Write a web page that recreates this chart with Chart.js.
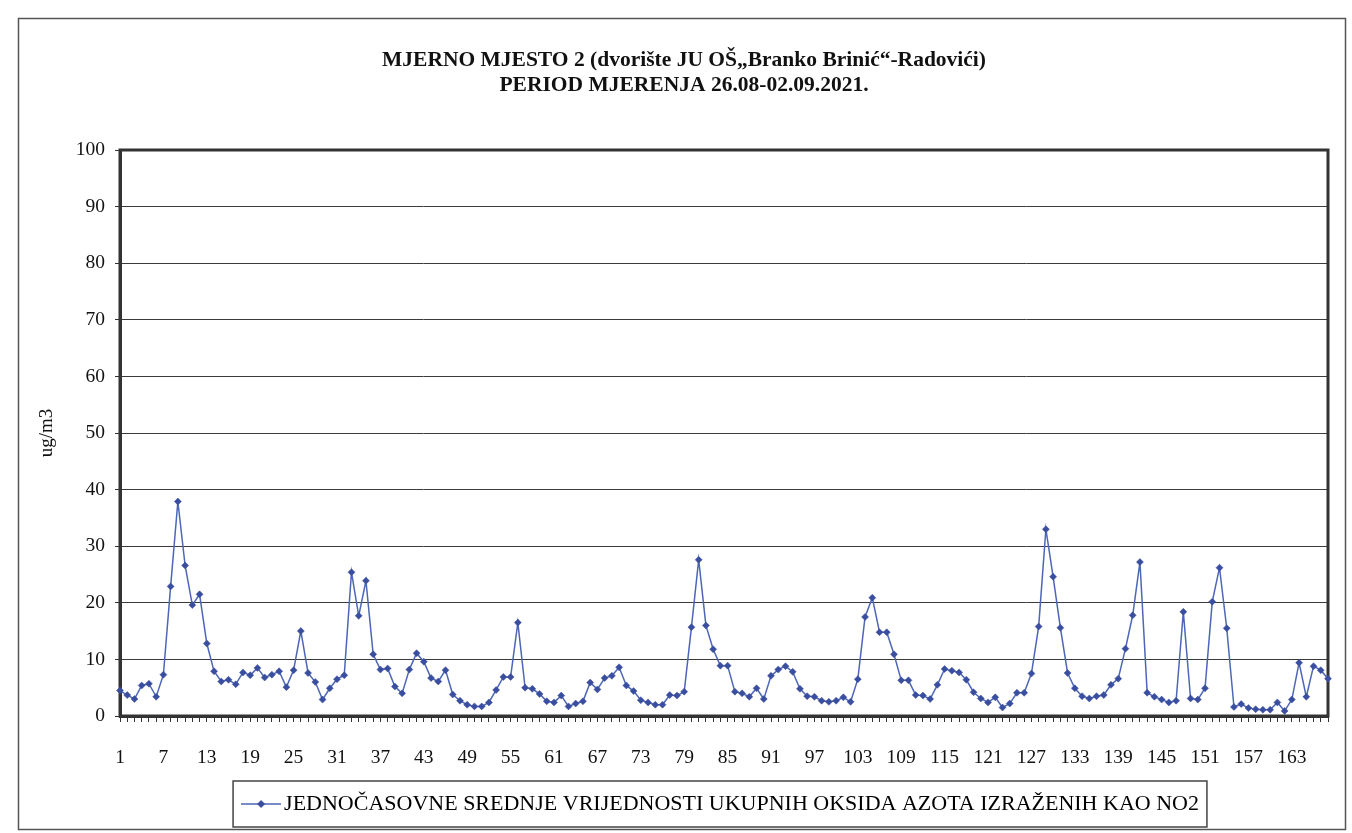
<!DOCTYPE html>
<html>
<head>
<meta charset="utf-8">
<script src="https://cdn.jsdelivr.net/npm/chart.js@4/dist/chart.umd.min.js"></script>
<style>
  html, body { margin: 0; padding: 0; background: #fff; }
  canvas { display: block; }
</style>
</head>
<body>
<canvas id="c" width="1352" height="833"></canvas>
<script>
// ---- data ----
const categories = [
  1,2,3,4,5,6,7,8,9,10,11,12,13,14,15,16,17,18,19,20,21,22,23,24,
  25,26,27,28,29,30,31,32,33,34,35,36,37,38,39,40,41,42,43,44,45,46,47,48,
  49,50,51,52,53,54,55,56,57,58,59,60,61,62,63,64,65,66,67,68,69,70,71,72,
  73,74,75,76,77,78,79,80,81,82,83,84,85,86,87,88,89,90,91,92,93,94,95,96,
  97,98,99,100,101,102,103,104,105,106,107,108,109,110,111,112,113,114,115,116,117,118,119,120,
  121,122,123,124,125,126,127,128,129,130,131,132,133,134,135,136,137,138,139,140,141,142,143,144,
  145,146,147,148,149,150,151,152,153,154,155,156,157,158,159,160,161,162,163,164,165,166,167,168
];
const no2Values = [
  4.5,3.7,3.0,5.4,5.7,3.4,7.3,22.9,37.9,26.6,19.6,21.5,12.8,7.9,6.1,6.4,5.6,7.7,7.2,8.5,6.8,7.3,7.9,5.1,
  8.1,15.0,7.6,6.0,2.9,4.9,6.5,7.2,25.4,17.7,23.9,10.9,8.2,8.4,5.2,4.0,8.2,11.1,9.6,6.7,6.1,8.1,3.8,2.7,
  2.0,1.7,1.7,2.4,4.6,6.9,6.9,16.5,5.0,4.8,3.9,2.6,2.4,3.6,1.7,2.2,2.6,5.9,4.7,6.7,7.1,8.6,5.4,4.4,
  2.8,2.4,2.0,2.0,3.7,3.6,4.3,15.7,27.6,16.0,11.8,8.9,8.9,4.3,4.0,3.4,4.9,3.0,7.1,8.2,8.8,7.8,4.8,3.5,
  3.4,2.7,2.5,2.7,3.3,2.5,6.5,17.5,20.9,14.8,14.8,10.9,6.3,6.3,3.7,3.6,3.0,5.5,8.3,8.0,7.7,6.4,4.2,3.1,
  2.4,3.3,1.5,2.2,4.1,4.1,7.5,15.8,33.0,24.6,15.6,7.6,4.9,3.5,3.1,3.5,3.7,5.5,6.6,11.9,17.8,27.2,4.1,3.4,
  2.9,2.4,2.7,18.4,3.1,2.9,4.9,20.2,26.2,15.5,1.6,2.1,1.4,1.2,1.1,1.1,2.4,0.9,2.9,9.4,3.4,8.8,8.1,6.6
];
const xTickLabels = ['1','7','13','19','25','31','37','43','49','55','61','67','73','79','85','91','97','103','109','115','121','127','133','139','145','151','157','163'];
const yTickValues = [0,10,20,30,40,50,60,70,80,90,100];
const titleLines = ['MJERNO MJESTO 2 (dvorište JU OŠ„Branko Brinić“-Radovići)', 'PERIOD MJERENJA 26.08-02.09.2021.'];
const seriesName = 'JEDNOČASOVNE SREDNJE VRIJEDNOSTI UKUPNIH OKSIDA AZOTA IZRAŽENIH KAO NO2';
const yAxisTitle = 'ug/m3';

// ---- styles ----
const SERIF = '"Liberation Serif", "Times New Roman", "DejaVu Serif", serif';
const LINE_COLOR = '#4d66b6';
const POINT_COLOR = '#3a4e9f';

// legend symbol: short line with a diamond
const sym = document.createElement('canvas');
sym.width = 40; sym.height = 12;
(function () {
  const g = sym.getContext('2d');
  g.strokeStyle = LINE_COLOR; g.lineWidth = 1.5;
  g.beginPath(); g.moveTo(0, 6); g.lineTo(40, 6); g.stroke();
  g.fillStyle = POINT_COLOR;
  g.beginPath(); g.moveTo(20, 2); g.lineTo(24, 6); g.lineTo(20, 10); g.lineTo(16, 6); g.closePath(); g.fill();
})();

const framePlugin = {
  id: 'frame',
  beforeDraw(chart) {
    const ctx = chart.ctx;
    ctx.save();
    ctx.fillStyle = '#fff';
    ctx.fillRect(0, 0, chart.width, chart.height);
    ctx.strokeStyle = '#555';
    ctx.lineWidth = 1.5;
    ctx.strokeRect(18.5, 18.5, 1327, 811);
    ctx.restore();
  },
  beforeDatasetsDraw(chart) {
    const a = chart.chartArea, ctx = chart.ctx;
    ctx.save();
    ctx.strokeStyle = '#333';
    ctx.lineWidth = 3;
    ctx.strokeRect(a.left, a.top, a.right - a.left, a.bottom - a.top);
    ctx.restore();
  },
  afterDraw(chart) {
    const lg = chart.legend;
    if (!lg || !lg.legendHitBoxes || !lg.legendHitBoxes.length) return;
    const hb = lg.legendHitBoxes[0];
    const ctx = chart.ctx;
    ctx.save();
    ctx.strokeStyle = '#444';
    ctx.lineWidth = 1.5;
    ctx.strokeRect(hb.left - 16, hb.top - 12, hb.width + 24, hb.height + 24);
    ctx.restore();
  }
};

new Chart(document.getElementById('c'), {
  type: 'line',
  data: {
    labels: categories,
    datasets: [{
      label: seriesName,
      data: no2Values,
      borderColor: LINE_COLOR,
      backgroundColor: POINT_COLOR,
      borderWidth: 1.5,
      pointStyle: 'rectRot',
      pointRadius: 3.5,
      pointBackgroundColor: POINT_COLOR,
      pointBorderColor: POINT_COLOR,
      pointBorderWidth: 0.5,
      tension: 0,
      clip: false
    }]
  },
  options: {
    responsive: false,
    animation: false,
    devicePixelRatio: 1,
    layout: { padding: { left: 38, right: 22, top: 0, bottom: 8 } },
    plugins: {
      title: {
        display: true,
        text: titleLines,
        color: '#111',
        font: { family: SERIF, size: 21.5, weight: 'bold', lineHeight: 25 / 21.5 },
        padding: { top: 48, bottom: 52 }
      },
      legend: {
        display: true,
        position: 'bottom',
        fullSize: false,
        labels: {
          color: '#111',
          font: { family: SERIF, size: 22 },
          usePointStyle: true,
          pointStyleWidth: 24,
          padding: 10,
          generateLabels(chart) {
            return [{
              text: seriesName,
              fillStyle: POINT_COLOR,
              strokeStyle: LINE_COLOR,
              pointStyle: sym,
              lineWidth: 0,
              hidden: false,
              datasetIndex: 0
            }];
          }
        }
      },
      tooltip: { enabled: false }
    },
    scales: {
      x: {
        type: 'category',
        offset: false,
        afterFit(s) { s.height = 67; },
        grid: { display: true, drawOnChartArea: false, drawTicks: true, tickLength: 6, tickColor: '#333', tickWidth: 1 },
        border: { display: true, color: '#333', width: 3 },
        ticks: {
          autoSkip: false,
          maxRotation: 0,
          minRotation: 0,
          padding: 24,
          color: '#111',
          font: { family: SERIF, size: 19.5 },
          callback(val, idx) {
            const l = String(categories[idx]);
            return xTickLabels.includes(l) ? l : '';
          }
        }
      },
      y: {
        min: yTickValues[0],
        max: yTickValues[yTickValues.length - 1],
        afterFit(s) { s.width = 82; },
        afterBuildTicks(s) { s.ticks = yTickValues.map(v => ({ value: v })); },
        grid: { color: '#3a3a3a', lineWidth: 1, tickLength: 5, tickColor: '#333' },
        border: { display: true, color: '#333', width: 3 },
        ticks: {
          padding: 10,
          color: '#111',
          font: { family: SERIF, size: 19.5 }
        },
        title: {
          display: true,
          text: yAxisTitle,
          color: '#111',
          font: { family: SERIF, size: 19, lineHeight: 1 },
          padding: 0
        }
      }
    }
  },
  plugins: [framePlugin]
});
</script>
</body>
</html>
